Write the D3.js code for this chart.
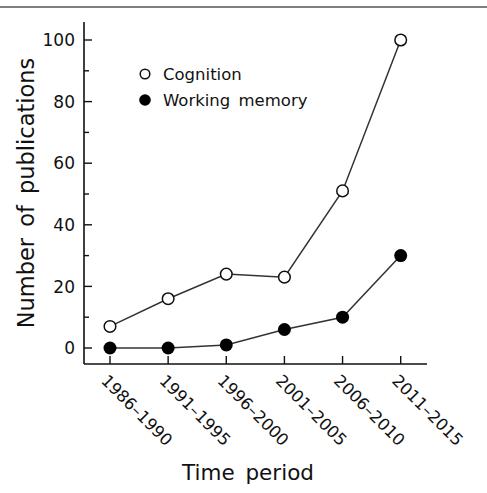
<!DOCTYPE html>
<html>
<head>
<meta charset="utf-8">
<script src="https://cdn.jsdelivr.net/npm/d3@7"></script>
<style>
  body { margin: 0; background: #fff; }
  svg text { font-family: "DejaVu Sans", sans-serif; fill: #111; }
</style>
</head>
<body>
<div id="chart"></div>
<script>
// data
var periods = ["1986–1990", "1991–1995", "1996–2000", "2001–2005", "2006–2010", "2011–2015"];
var cognition = [7, 16, 24, 23, 51, 100];
var workingMemory = [0, 0, 1, 6, 10, 30];
var yTicks = [0, 20, 40, 60, 80, 100];
var yMinor = [10, 30, 50, 70, 90];

var width = 487, height = 493;

var svg = d3.select("#chart").append("svg")
    .attr("width", width)
    .attr("height", height);

// thin rule across the top
svg.append("line")
    .attr("x1", 0).attr("x2", width)
    .attr("y1", 7).attr("y2", 7)
    .attr("stroke", "#555")
    .attr("stroke-width", 1.5);

var x = d3.scalePoint()
    .domain(periods)
    .range([110, 400.7]);

var y = d3.scaleLinear()
    .domain([0, 100])
    .range([348, 40]);

var axisLeft = 84, axisBottom = 364;

// y axis
var gy = svg.append("g").attr("transform", "translate(" + axisLeft + ",0)");
gy.append("line")
    .attr("y1", 22).attr("y2", axisBottom)
    .attr("stroke", "#111").attr("stroke-width", 1.6);
gy.selectAll(".major").data(yTicks).enter().append("line")
    .attr("x1", 0).attr("x2", 8)
    .attr("y1", function(d){ return y(d); })
    .attr("y2", function(d){ return y(d); })
    .attr("stroke", "#111").attr("stroke-width", 1.4);
gy.selectAll(".minor").data(yMinor).enter().append("line")
    .attr("x1", 0).attr("x2", 5)
    .attr("y1", function(d){ return y(d); })
    .attr("y2", function(d){ return y(d); })
    .attr("stroke", "#111").attr("stroke-width", 1.4);
gy.selectAll("text").data(yTicks).enter().append("text")
    .attr("x", -9)
    .attr("y", function(d){ return y(d); })
    .attr("dy", "0.36em")
    .attr("text-anchor", "end")
    .attr("font-size", 17)
    .text(function(d){ return d; });

// x axis
var gx = svg.append("g").attr("transform", "translate(0," + axisBottom + ")");
gx.append("line")
    .attr("x1", axisLeft).attr("x2", 427)
    .attr("stroke", "#111").attr("stroke-width", 1.6);
gx.selectAll(".tick").data(periods).enter().append("line")
    .attr("x1", function(d){ return x(d); })
    .attr("x2", function(d){ return x(d); })
    .attr("y1", 0).attr("y2", -8)
    .attr("stroke", "#111").attr("stroke-width", 1.4);
gx.selectAll("text").data(periods).enter().append("text")
    .attr("transform", function(d){ return "translate(" + (x(d) - 1) + ",9) rotate(45)"; })
    .attr("dy", "0.75em")
    .attr("text-anchor", "start")
    .attr("font-size", 16.5)
    .text(function(d){ return d; });

// axis titles
svg.append("text")
    .attr("x", 248).attr("y", 480)
    .attr("text-anchor", "middle")
    .attr("font-size", 21.5)
    .attr("word-spacing", 4)
    .text("Time period");

svg.append("text")
    .attr("transform", "translate(34,193) rotate(-90)")
    .attr("text-anchor", "middle")
    .attr("font-size", 22.5)
    .attr("word-spacing", 4)
    .text("Number of publications");

// series
var line = d3.line()
    .x(function(d, i){ return x(periods[i]); })
    .y(function(d){ return y(d); });

svg.append("path").datum(cognition)
    .attr("d", line)
    .attr("fill", "none").attr("stroke", "#333").attr("stroke-width", 1.5);
svg.append("path").datum(workingMemory)
    .attr("d", line)
    .attr("fill", "none").attr("stroke", "#333").attr("stroke-width", 1.5);

svg.selectAll(".cog").data(cognition).enter().append("circle")
    .attr("cx", function(d, i){ return x(periods[i]); })
    .attr("cy", function(d){ return y(d); })
    .attr("r", 5.8)
    .attr("fill", "#fff").attr("stroke", "#111").attr("stroke-width", 1.5);
svg.selectAll(".wm").data(workingMemory).enter().append("circle")
    .attr("cx", function(d, i){ return x(periods[i]); })
    .attr("cy", function(d){ return y(d); })
    .attr("r", 6.5)
    .attr("fill", "#000");

// legend
var legend = svg.append("g");
legend.append("circle")
    .attr("cx", 145).attr("cy", 74).attr("r", 4.8)
    .attr("fill", "#fff").attr("stroke", "#111").attr("stroke-width", 1.5);
legend.append("text")
    .attr("x", 163).attr("y", 80)
    .attr("font-size", 16.5)
    .text("Cognition");
legend.append("circle")
    .attr("cx", 145).attr("cy", 100).attr("r", 5.8)
    .attr("fill", "#000");
legend.append("text")
    .attr("x", 163).attr("y", 106)
    .attr("font-size", 16.5)
    .attr("word-spacing", 3)
    .text("Working memory");
</script>
</body>
</html>
